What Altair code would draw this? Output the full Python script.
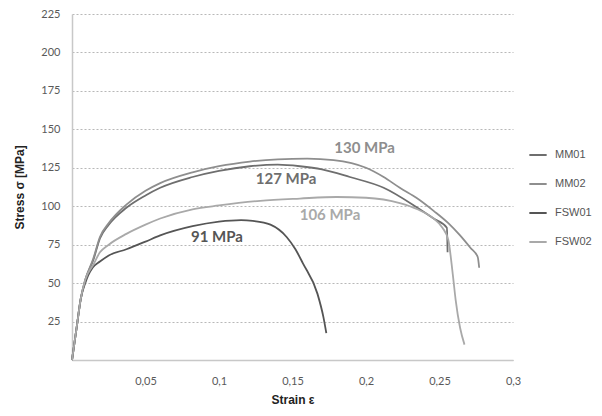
import altair as alt
import pandas as pd

# ---- data (strain, stress) ----
series_names = ["MM01", "MM02", "FSW01", "FSW02"]
series_colors = ["#6e6e6e", "#8e8e8e", "#555555", "#a9a9a9"]

mm01_strain = [0, 0.003, 0.006, 0.009, 0.0145, 0.019, 0.025, 0.037, 0.05, 0.06, 0.082, 0.1, 0.121, 0.14, 0.155, 0.17, 0.189, 0.212, 0.235, 0.246, 0.255, 0.2555]
mm01_stress = [0, 20, 40, 52, 65, 79, 88, 99, 107, 112, 119, 123, 126, 127, 126, 124, 119, 112, 99, 92, 86, 70]

mm02_strain = [0, 0.003, 0.006, 0.009, 0.0145, 0.019, 0.025, 0.037, 0.05, 0.06, 0.082, 0.1, 0.121, 0.14, 0.16, 0.178, 0.2, 0.212, 0.223, 0.235, 0.246, 0.256, 0.264, 0.271, 0.276, 0.277]
mm02_stress = [0, 20, 40, 52, 66, 80, 89, 101, 110, 115, 122, 126, 129, 130.5, 131, 130, 125, 119, 112, 105, 97, 89, 81, 73, 67, 60]

fsw01_strain = [0, 0.003, 0.006, 0.009, 0.011, 0.014, 0.019, 0.025, 0.037, 0.05, 0.06, 0.082, 0.1, 0.115, 0.123, 0.135, 0.146, 0.152, 0.157, 0.167, 0.171, 0.173]
fsw01_stress = [0, 20, 40, 50, 55, 60, 64, 68, 72, 77, 81, 87, 90, 91, 90.5, 88, 80, 72, 63, 43, 28, 17.5]

fsw02_strain = [0, 0.003, 0.006, 0.009, 0.0145, 0.019, 0.025, 0.037, 0.05, 0.06, 0.082, 0.1, 0.128, 0.155, 0.18, 0.2, 0.223, 0.235, 0.246, 0.252, 0.256, 0.259, 0.261, 0.264, 0.267]
fsw02_stress = [0, 20, 40, 52, 62, 70, 75, 82, 88, 92, 98, 100.5, 103.5, 105, 106, 105.5, 102, 98, 92, 86, 78, 56, 39, 21, 10]

label_texts = ["127 MPa", "130 MPa", "91 MPa", "106 MPa"]
label_strain = [0.1456, 0.199, 0.0986, 0.1755]
label_stress = [118, 137.7, 80, 94]

y_ticks = [0, 25, 50, 75, 100, 125, 150, 175, 200, 225]
x_ticks = [0, 0.05, 0.1, 0.15, 0.2, 0.25, 0.3]

rows = []
for name, xs, ys in [("MM01", mm01_strain, mm01_stress), ("MM02", mm02_strain, mm02_stress),
                     ("FSW01", fsw01_strain, fsw01_stress), ("FSW02", fsw02_strain, fsw02_stress)]:
    for i, (x, y) in enumerate(zip(xs, ys)):
        rows.append({"series": name, "strain": x, "stress": y, "idx": i})
df = pd.DataFrame(rows)

lab = pd.DataFrame({"text": label_texts, "strain": label_strain, "stress": label_stress,
                    "series": series_names})

xscale = alt.Scale(domain=[0, 0.3], nice=False, zero=True)
yscale = alt.Scale(domain=[0, 225], nice=False)
cscale = alt.Scale(domain=series_names, range=series_colors)

xaxis = alt.Axis(values=x_ticks, grid=False, ticks=False, domainColor="#c8c8c8",
                 domainWidth=1.5, labelOverlap=False, labelFlush=False,
                 labelExpr="datum.value == 0 ? '' : replace(format(datum.value, '.2~f'), '.', ',')",
                 labelPadding=15, labelFont="Lato", labelFontSize=11, labelColor="#595959",
                 title="Strain  ε", titleFont="Liberation Sans", titleFontSize=12,
                 titleFontWeight="bold", titleColor="#222222", titlePadding=8)
yaxis = alt.Axis(values=y_ticks, grid=True, gridDash=[2, 2], gridColor="#b8b8b8",
                 gridWidth=1.2, ticks=False, domainColor="#c8c8c8", domainWidth=1.5,
                 labelOverlap=False, labelFlush=False,
                 labelExpr="datum.value == 0 ? '' : datum.label",
                 labelPadding=12, labelFont="Lato", labelFontSize=11, labelColor="#595959",
                 title="Stress σ [MPa]", titleFont="Liberation Sans", titleFontSize=12,
                 titleFontWeight="bold", titleColor="#222222", titlePadding=14)

lines = alt.Chart(df).mark_line(strokeWidth=1.8, interpolate="monotone").encode(
    x=alt.X("strain:Q", scale=xscale, axis=xaxis),
    y=alt.Y("stress:Q", scale=yscale, axis=yaxis),
    color=alt.Color("series:N", scale=cscale,
                    legend=alt.Legend(title=None, orient="none", legendX=456, legendY=131,
                                      symbolType="stroke", symbolSize=300, symbolStrokeWidth=2,
                                      labelFont="Liberation Sans", labelFontSize=11,
                                      labelColor="#555555", rowPadding=14, labelOffset=7)),
    detail="series:N",
    order="idx:Q",
)

labels = alt.Chart(lab).mark_text(font="Lato", fontSize=15, fontWeight="bold").encode(
    x=alt.X("strain:Q", scale=xscale, axis=xaxis),
    y=alt.Y("stress:Q", scale=yscale, axis=yaxis),
    text="text:N",
    color=alt.Color("series:N", scale=cscale, legend=None),
)

chart = (lines + labels).properties(
    width=441, height=346,
    autosize=alt.AutoSizeParams(type="none"),
    padding={"left": 64, "top": 6, "right": 80, "bottom": 47},
).configure_view(stroke=None)

chart.save("out.html", embed_options={"renderer": "svg", "actions": False})
